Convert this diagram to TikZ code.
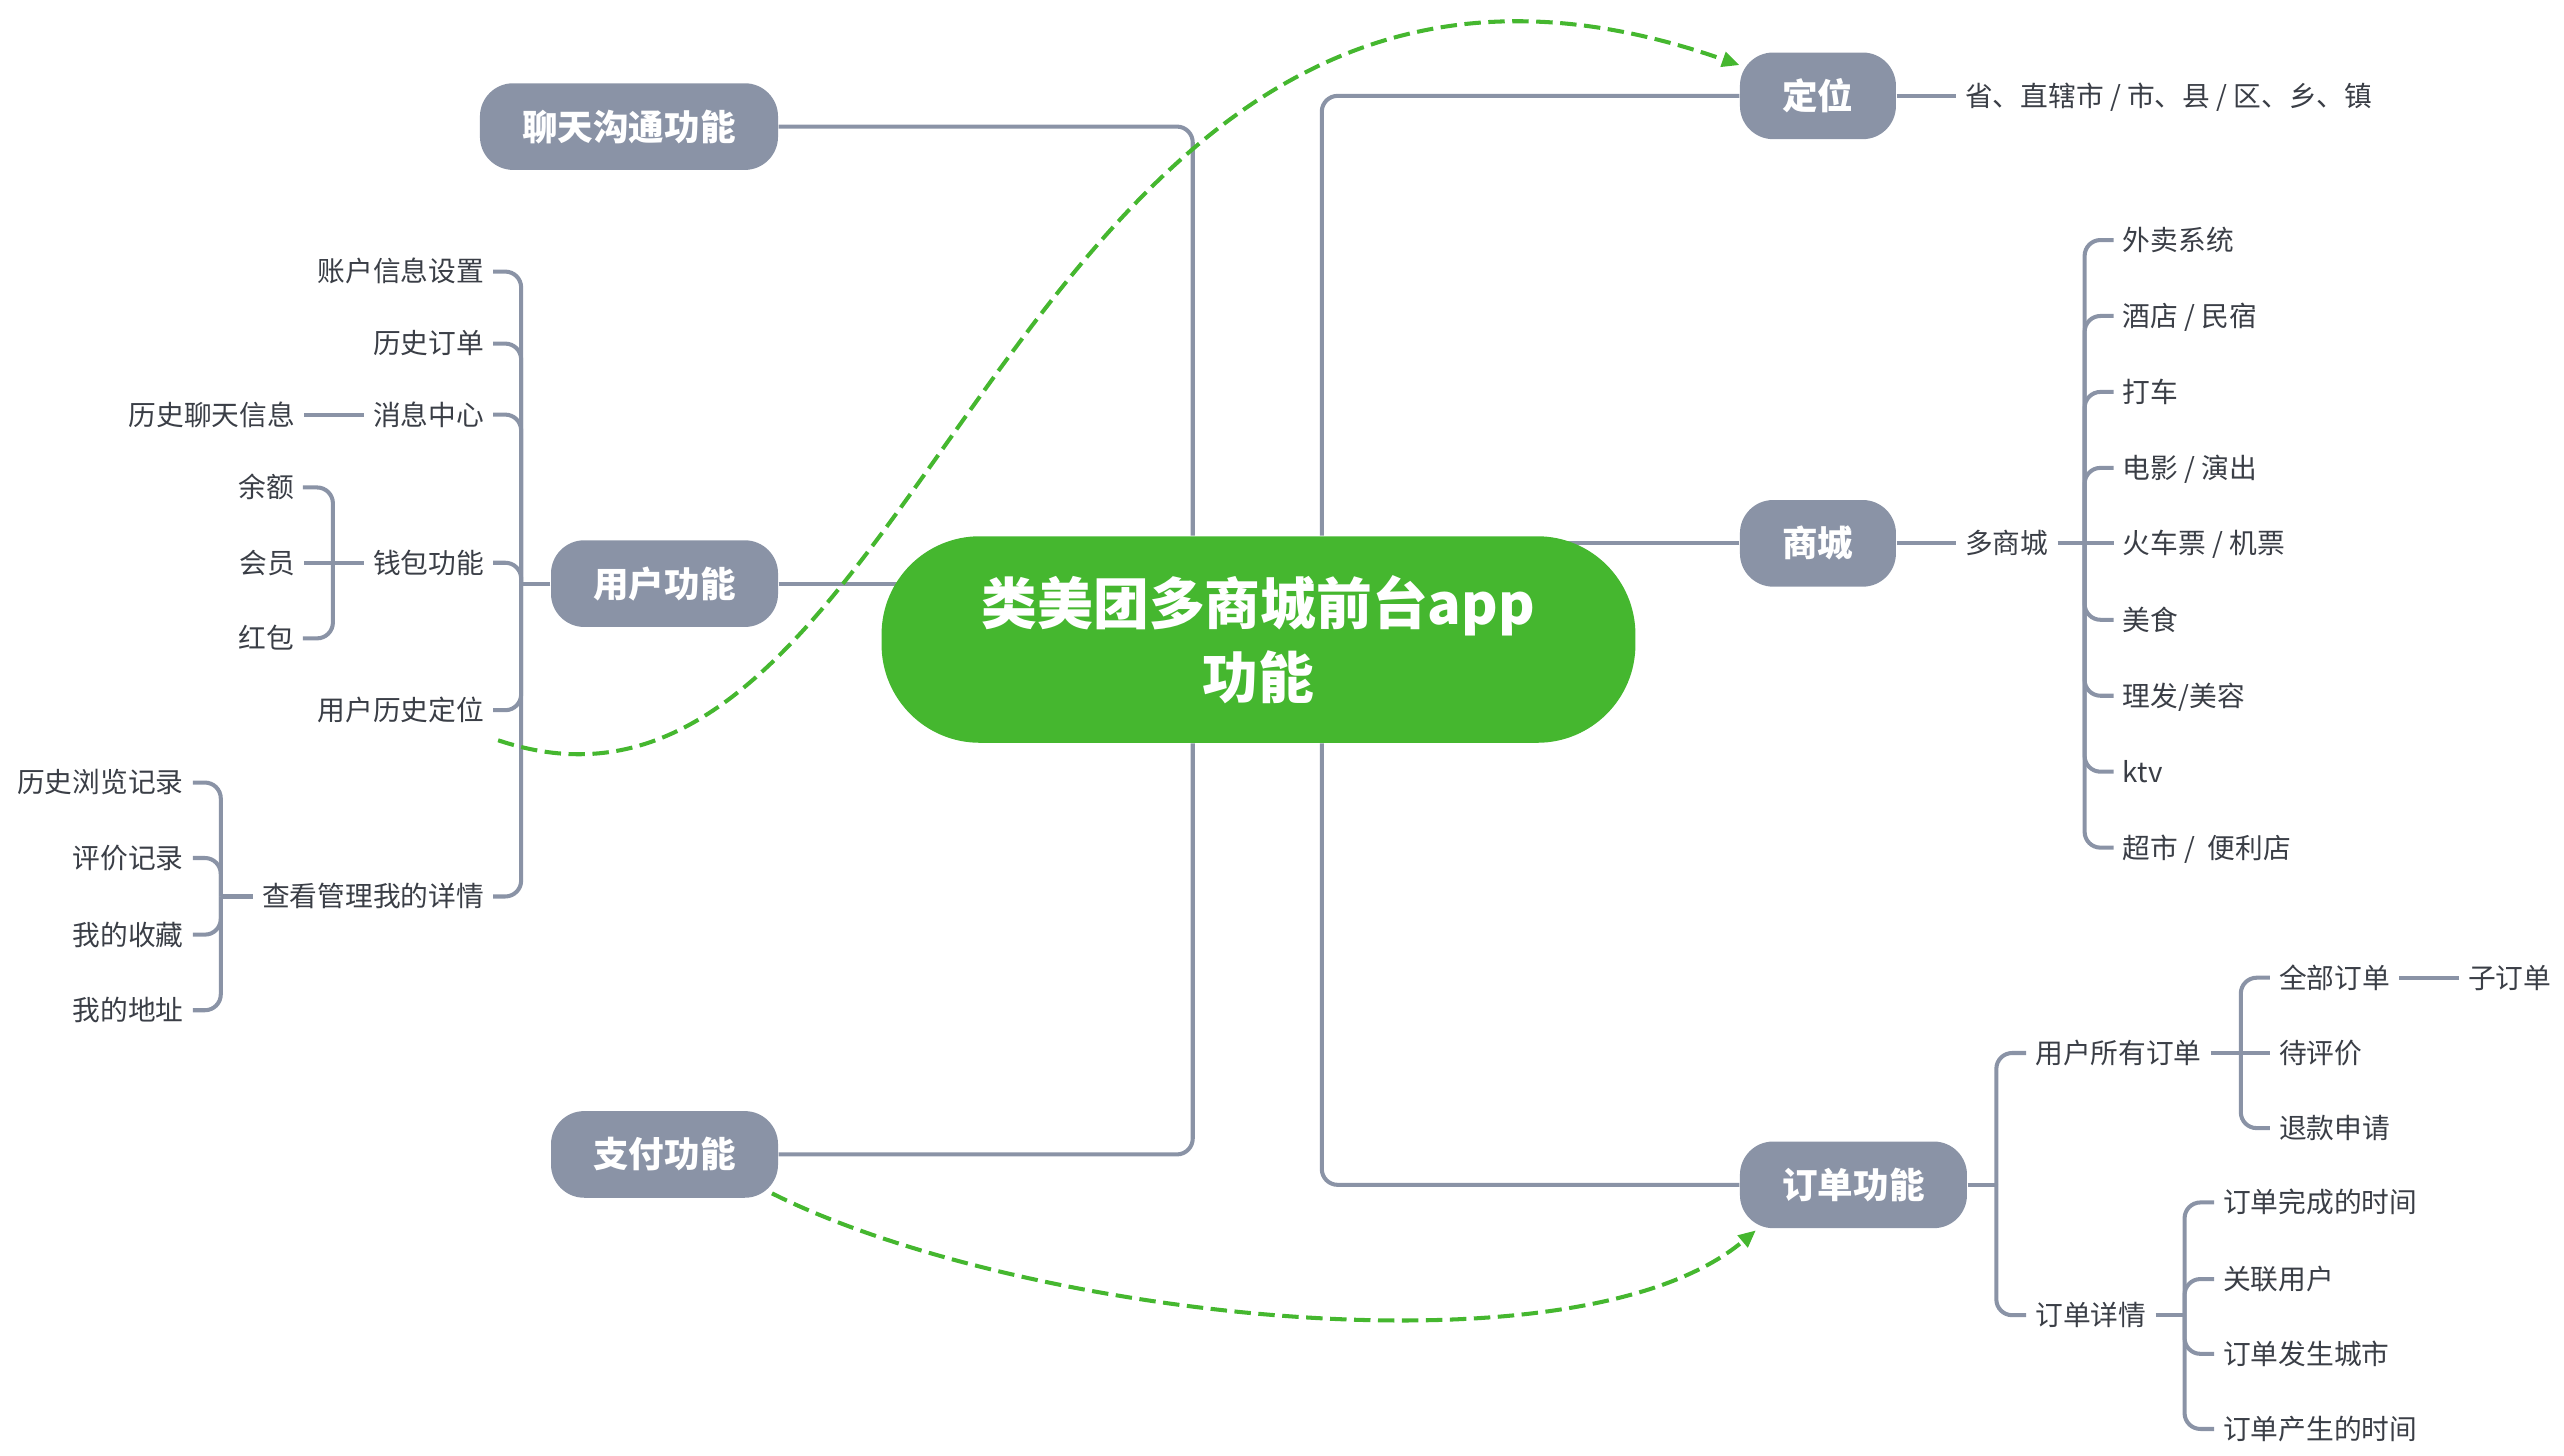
\documentclass[tikz,border=0pt]{standalone}
\usepackage{fontspec}
\setmainfont{Noto Sans CJK SC}
\usepackage{xcolor}
\usetikzlibrary{
  arrows.meta,
  positioning,
  calc,
  backgrounds}
\definecolor{coregreen}{HTML}{45B72F}
\definecolor{topicgray}{HTML}{8A93A6}
\definecolor{leafgray}{HTML}{3A3E46}

\begin{document}
\begin{tikzpicture}[x=0.02cm, y=-0.02cm, node distance = 20.6pt,
  core/.style={fill=coregreen, text=white, rounded corners=34pt, minimum width=261pt, minimum height=71.5pt, align=center, font=\fontsize{19.3}{25.7}\selectfont\bfseries},
  topic/.style={fill=topicgray, text=white, rounded corners=11.5pt, minimum height=30pt, inner xsep=14.7pt, inner ysep=0pt, text height=10.8pt, text depth=1.5pt, font=\fontsize{12.3}{14}\selectfont\bfseries},
  leaf/.style={text=leafgray, inner xsep=3pt, inner ysep=0pt, text height=8.4pt, text depth=1.2pt, font=\fontsize{9.6}{11}\selectfont},
  branch/.style={draw=topicgray, line width=1.4pt, rounded corners=5.5pt},
  relation/.style={draw=coregreen, line width=1.4pt, dash pattern=on 5.7pt off 2.6pt, -{Triangle[length=6pt, width=5.2pt]}}]
\useasboundingbox (0,0) rectangle (1559.6,885.6);

%main topics
\node[core] (core) at (765.5,389) {类美团多商城前台app\\功能};
\node[topic, anchor=east] (chat) at (473.6,77) {聊天沟通功能};
\node[topic, anchor=east] (user) at (473.6,355) {用户功能};
\node[topic, anchor=east] (pay) at (473.6,702.2) {支付功能};
\node[topic, anchor=west] (locate) at (1058,58.3) {定位};
\node[topic, anchor=west] (mall) at (1058,330.5) {商城};
\node[topic, anchor=west] (orders) at (1058,720.7) {订单功能};

\coordinate (trunkl) at (725.5,389);
\coordinate (trunkr) at (804,389);

%user functions
\node[leaf, anchor=east] (accountinfo) at (300,165.2) {账户信息设置};
\node[leaf, anchor=east] (historders) at (300,209) {历史订单};
\node[leaf, anchor=east] (msgcenter) at (300,252.2) {消息中心};
\node[leaf, left = of msgcenter] (chathistory) {历史聊天信息};
\node[leaf, anchor=east] (wallet) at (300,342.3) {钱包功能};
\node[leaf, anchor=east] (balance) at (184.3,296.5) {余额};
\node[leaf, left = of wallet] (member) {会员};
\node[leaf, anchor=east] (redpacket) at (184.3,388.3) {红包};
\node[leaf, anchor=east] (histloc) at (300,432) {用户历史定位};
\node[leaf, anchor=east] (mydetails) at (300,545.3) {查看管理我的详情};
\node[leaf, anchor=east] (browsehist) at (117.3,476) {历史浏览记录};
\node[leaf, anchor=east] (reviews) at (117.3,521.9) {评价记录};
\node[leaf, anchor=east] (favourites) at (117.3,568.5) {我的收藏};
\node[leaf, anchor=east] (addresses) at (117.3,614.5) {我的地址};

\coordinate (userjoint) at (317,355);
\coordinate (walletjoint) at (202.5,342.3);
\coordinate (detailjoint) at (134.3,545.3);

%location and mall
\node[leaf, right = of locate] (region) {省、直辖市 / 市、县 / 区、乡、镇};
\node[leaf, right = of mall] (multimall) {多商城};
\node[leaf, anchor=west] (takeout) at (1285.7,146) {外卖系统};
\node[leaf, anchor=west] (hotel) at (1285.7,192.2) {酒店 / 民宿};
\node[leaf, anchor=west] (taxi) at (1285.7,238.4) {打车};
\node[leaf, anchor=west] (movie) at (1285.7,284.6) {电影 / 演出};
\node[leaf, anchor=west] (tickets) at (1285.7,330.5) {火车票 / 机票};
\node[leaf, anchor=west] (food) at (1285.7,377) {美食};
\node[leaf, anchor=west] (salon) at (1285.7,423.2) {理发/美容};
\node[leaf, anchor=west] (ktv) at (1285.7,469.4) {ktv};
\node[leaf, anchor=west] (market) at (1285.7,515.6) {超市 /\ \ 便利店};

\coordinate (malljoint) at (1268,330.5);

%orders
\node[leaf, anchor=west] (userorders) at (1232.4,640.5) {用户所有订单};
\node[leaf, anchor=west] (orderdetail) at (1232.4,800) {订单详情};
\node[leaf, anchor=west] (allorders) at (1380.7,594.7) {全部订单};
\node[leaf, right = of allorders] (suborder) {子订单};
\node[leaf, anchor=west] (toreview) at (1380.7,640.5) {待评价};
\node[leaf, anchor=west] (refund) at (1380.7,686.2) {退款申请};
\node[leaf, anchor=west] (donetime) at (1346.7,731.4) {订单完成的时间};
\node[leaf, anchor=west] (linkuser) at (1346.7,778) {关联用户};
\node[leaf, anchor=west] (city) at (1346.7,823.5) {订单发生城市};
\node[leaf, anchor=west] (createtime) at (1346.7,869.2) {订单产生的时间};

\coordinate (orderjoint) at (1214.3,720.7);
\coordinate (userorderjoint) at (1363,640.5);
\coordinate (orderdetailjoint) at (1328.8,800);

%lines
\begin{scope}[on background layer]
\draw[branch] (chat.east) -| (trunkl |- core.north);
\draw[branch] (pay.east) -| (trunkl |- core.south);
\draw[branch] (user.east) -- (core.center |- user.east);
\draw[branch] (locate.west) -| (trunkr |- core.north);
\draw[branch] (orders.west) -| (trunkr |- core.south);
\draw[branch] (mall.west) -- (core.center |- mall.west);
\end{scope}

\draw[branch] (user.west) -- (userjoint);
\draw[branch] (userjoint) |- (accountinfo.east);
\draw[branch] (userjoint) |- (historders.east);
\draw[branch] (userjoint) |- (msgcenter.east);
\draw[branch] (userjoint) |- (wallet.east);
\draw[branch] (userjoint) |- (histloc.east);
\draw[branch] (userjoint) |- (mydetails.east);
\draw[branch] (msgcenter) -- (chathistory);
\draw[branch] (wallet) -- (member);
\draw[branch] (walletjoint) |- (balance.east);
\draw[branch] (walletjoint) |- (redpacket.east);
\draw[branch] (mydetails.west) -- (detailjoint);
\draw[branch] (detailjoint) |- (browsehist.east);
\draw[branch] (detailjoint) |- (reviews.east);
\draw[branch] (detailjoint) |- (favourites.east);
\draw[branch] (detailjoint) |- (addresses.east);

\draw[branch] (locate) -- (region);
\draw[branch] (mall) -- (multimall);
\draw[branch] (multimall) -- (tickets);
\draw[branch] (malljoint) |- (takeout.west);
\draw[branch] (malljoint) |- (hotel.west);
\draw[branch] (malljoint) |- (taxi.west);
\draw[branch] (malljoint) |- (movie.west);
\draw[branch] (malljoint) |- (food.west);
\draw[branch] (malljoint) |- (salon.west);
\draw[branch] (malljoint) |- (ktv.west);
\draw[branch] (malljoint) |- (market.west);

\draw[branch] (orders.east) -- (orderjoint);
\draw[branch] (orderjoint) |- (userorders.west);
\draw[branch] (orderjoint) |- (orderdetail.west);
\draw[branch] (userorders) -- (toreview);
\draw[branch] (userorderjoint) |- (allorders.west);
\draw[branch] (userorderjoint) |- (refund.west);
\draw[branch] (allorders) -- (suborder);
\draw[branch] (orderdetail.east) -- (orderdetailjoint);
\draw[branch] (orderdetailjoint) |- (donetime.west);
\draw[branch] (orderdetailjoint) |- (linkuser.west);
\draw[branch] (orderdetailjoint) |- (city.west);
\draw[branch] (orderdetailjoint) |- (createtime.west);

%relations
\draw[relation] ($(histloc.south east)+(3,9.5)$) .. controls +(267,90) and +(-447,-157) .. ($(locate.north west)+(0,8)$);
\draw[relation] ($(pay.south east)+(-4,-3)$) .. controls +(150,75) and +(-109,92) .. ($(orders.south west)+(10,1)$);

\end{tikzpicture}
\end{document}
